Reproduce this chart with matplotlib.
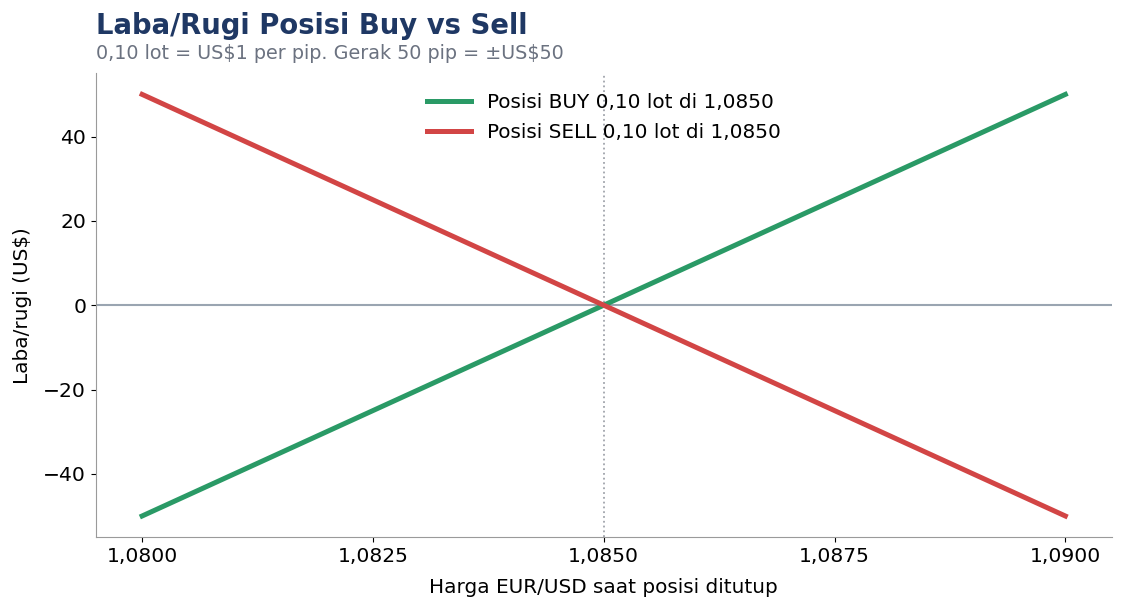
import numpy as np
import matplotlib
matplotlib.use('Agg')
import matplotlib.pyplot as plt
from matplotlib.ticker import FuncFormatter

# harga penutupan dan laba/rugi (US$)
harga = [1.0800, 1.0825, 1.0850, 1.0875, 1.0900]
pnlBuy = [-50, -25, 0, 25, 50]
pnlSell = [50, 25, 0, -25, -50]
hargaMasuk = 1.0850
xticks = [1.0800, 1.0825, 1.0850, 1.0875, 1.0900]

fig, ax = plt.subplots(figsize=(11.25, 6.11), dpi=100)
fig.subplots_adjust(left=0.0853, right=0.988, top=0.88, bottom=0.121)

ax.plot(harga, pnlBuy, color='#2a9a66', lw=3.6, label='Posisi BUY 0,10 lot di 1,0850', zorder=3)
ax.plot(harga, pnlSell, color='#d24545', lw=3.6, label='Posisi SELL 0,10 lot di 1,0850', zorder=3)
ax.axhline(0, color='#9aa5b1', lw=1.5, zorder=1)
ax.axvline(hargaMasuk, color='#a0a4ab', lw=1.3, ls=':', zorder=1)

ax.set_xticks(xticks)
ax.xaxis.set_major_formatter(FuncFormatter(lambda v, p: f'{v:.4f}'.replace('.', ',')))
ax.tick_params(labelsize=14.6)
ax.set_xlabel('Harga EUR/USD saat posisi ditutup', fontsize=14.4, labelpad=8.5)
ax.set_ylabel('Laba/rugi (US\\$)', fontsize=14.4, labelpad=8)

for s in ['top', 'right']:
    ax.spines[s].set_visible(False)
for s in ['left', 'bottom']:
    ax.spines[s].set_color('#9a9a9a')

ax.legend(loc='upper center', frameon=False, fontsize=14.4, handlelength=2.2,
          bbox_to_anchor=(0.5, 1.0), borderaxespad=0.6, labelspacing=0.55)

fig.text(0.0853, 0.958, 'Laba/Rugi Posisi Buy vs Sell', fontsize=19.8, fontweight='bold',
         color='#1f3864', va='center', ha='left')
fig.text(0.0853, 0.912, '0,10 lot = US\\$1 per pip. Gerak 50 pip = ±US\\$50', fontsize=13.8,
         color='#6b7280', va='center', ha='left')

fig.savefig('out.png', dpi=100)
